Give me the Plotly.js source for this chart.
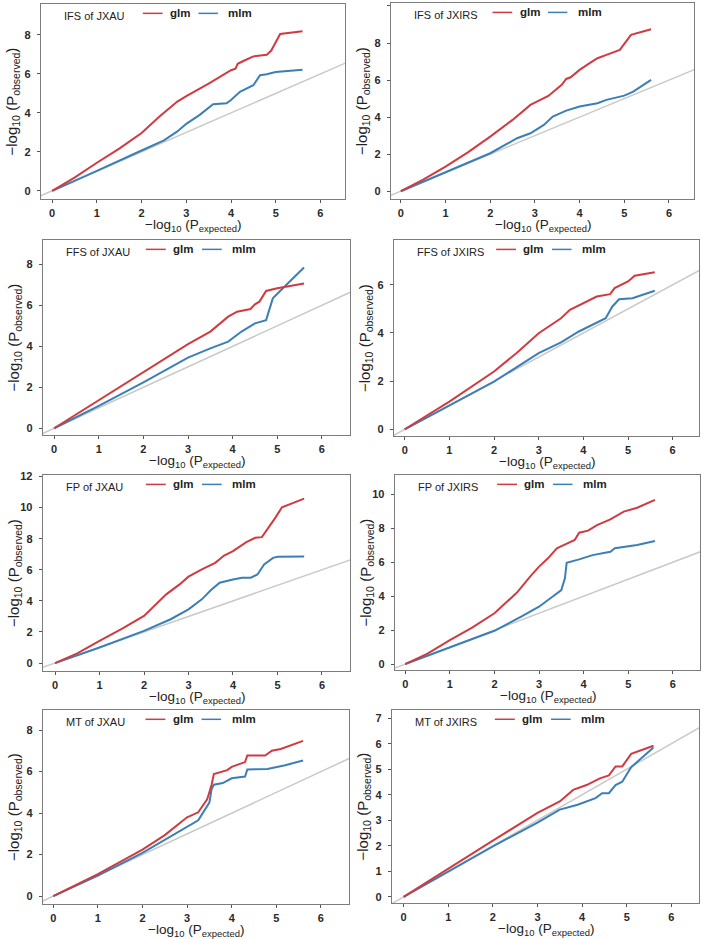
<!DOCTYPE html>
<html>
<head>
<meta charset="utf-8">
<script src="https://cdn.plot.ly/plotly-3.0.1.min.js"></script>
<style>html,body{margin:0;padding:0;background:#fff;}#chart{width:703px;height:939px;}</style>
</head>
<body>
<div id="chart"></div>
<script>
// ---------- data ----------
const panelTitles = ["IFS of JXAU", "IFS of JXIRS", "FFS of JXAU", "FFS of JXIRS",
                     "FP of JXAU", "FP of JXIRS", "MT of JXAU", "MT of JXIRS"];
const seriesNames = ["glm", "mlm"];
const xTickVals = [0, 1, 2, 3, 4, 5, 6];

const p1GlmX = [0,0.5,1,1.5,2,2.4,2.8,3,3.5,3.8,4,4.1,4.15,4.3,4.5,4.8,4.9,5.1,5.6];
const p1GlmY = [0,0.68,1.44,2.17,2.97,3.81,4.58,4.86,5.5,5.93,6.19,6.27,6.52,6.69,6.9,6.98,7.2,8.05,8.19];
const p1MlmX = [0,0.5,1,2,2.5,2.8,3,3.3,3.6,3.9,4,4.2,4.5,4.65,4.8,5,5.6];
const p1MlmY = [0,0.5,1.02,2.07,2.59,3.05,3.44,3.9,4.44,4.49,4.66,5.08,5.42,5.93,5.98,6.1,6.22];

const p2GlmX = [0,0.5,1,1.5,2,2.5,2.9,3.3,3.6,3.7,3.8,4,4.2,4.4,4.6,4.9,5.15,5.6];
const p2GlmY = [0,0.62,1.33,2.1,2.95,3.85,4.66,5.14,5.74,6.06,6.15,6.55,6.87,7.18,7.36,7.63,8.44,8.74];
const p2MlmX = [0,1,2,2.6,2.9,3.2,3.4,3.7,4,4.4,4.6,5,5.2,5.6];
const p2MlmY = [0,1.03,2.05,2.86,3.13,3.58,4.03,4.35,4.57,4.75,4.93,5.16,5.38,6.01];

const p3GlmX = [0,1,2,3,3.5,3.9,4.1,4.4,4.5,4.6,4.75,5,5.6];
const p3GlmY = [0,1.38,2.72,4.11,4.72,5.45,5.69,5.82,6.05,6.18,6.7,6.83,7.07];
const p3MlmX = [0,1,2,3,3.5,3.9,4.2,4.5,4.75,4.9,5.2,5.6];
const p3MlmY = [0,1.09,2.24,3.45,3.9,4.23,4.72,5.12,5.28,6.34,6.99,7.85];

const p4GlmX = [0,1,2,2.5,3,3.5,3.7,4,4.3,4.6,4.7,5,5.15,5.6];
const p4GlmY = [0,1.15,2.4,3.16,3.99,4.61,4.96,5.24,5.51,5.61,5.86,6.14,6.38,6.52];
const p4MlmX = [0,1,2,3,3.5,3.9,4.2,4.5,4.65,4.8,5.1,5.6];
const p4MlmY = [0,1.0,1.98,3.16,3.61,4.06,4.34,4.61,5.1,5.4,5.44,5.75];

const p5GlmX = [0,0.5,1,1.5,2,2.5,2.8,3,3.3,3.6,3.8,4,4.3,4.5,4.65,4.8,4.95,5.1,5.6];
const p5GlmY = [0,0.62,1.43,2.2,3.03,4.42,5.06,5.56,6.03,6.45,6.92,7.2,7.78,8.06,8.1,8.7,9.34,10.02,10.58];
const p5MlmX = [0,1,2,2.6,3,3.3,3.5,3.7,4,4.2,4.4,4.55,4.7,4.9,5,5.6];
const p5MlmY = [0,1,2.07,2.82,3.46,4.1,4.68,5.17,5.38,5.49,5.49,5.7,6.35,6.77,6.84,6.86];

const p6GlmX = [0,0.5,1,1.5,2,2.5,2.8,3,3.2,3.4,3.6,3.8,3.9,4.1,4.3,4.6,4.9,5.2,5.6];
const p6GlmY = [0,0.62,1.41,2.15,2.99,4.2,5.15,5.74,6.23,6.82,7.07,7.31,7.74,7.86,8.19,8.53,8.98,9.21,9.67];
const p6MlmX = [0,1,2,2.6,3,3.3,3.5,3.58,3.62,3.9,4.2,4.6,4.7,5.2,5.6];
const p6MlmY = [0,0.98,1.96,2.79,3.38,3.97,4.36,5.05,5.97,6.17,6.42,6.62,6.82,7.01,7.25];

const p7GlmX = [0,1,2,2.5,3,3.25,3.45,3.55,3.6,3.9,4,4.3,4.35,4.75,4.9,5.1,5.6];
const p7GlmY = [0,1.06,2.24,2.94,3.8,4.04,4.66,5.37,5.88,6.07,6.23,6.46,6.78,6.78,7.01,7.09,7.48];
const p7MlmX = [0,1,2,3,3.25,3.5,3.55,3.6,3.8,4,4.3,4.35,4.8,5.2,5.6];
const p7MlmY = [0,0.99,2.08,3.33,3.65,4.51,5.16,5.37,5.45,5.68,5.76,6.1,6.13,6.31,6.54];

const p8GlmX = [0,1,2,3,3.5,3.8,4.1,4.4,4.6,4.75,4.9,5.1,5.6];
const p8GlmY = [0,1.11,2.2,3.29,3.74,4.19,4.38,4.64,4.76,5.11,5.11,5.6,5.92];
const p8MlmX = [0,1,2,3,3.5,3.9,4.1,4.3,4.45,4.6,4.75,4.9,5.1,5.6];
const p8MlmY = [0,0.99,1.98,2.91,3.42,3.61,3.74,3.87,4.06,4.06,4.38,4.51,5.08,5.85];

const glmX = [p1GlmX,p2GlmX,p3GlmX,p4GlmX,p5GlmX,p6GlmX,p7GlmX,p8GlmX];
const glmY = [p1GlmY,p2GlmY,p3GlmY,p4GlmY,p5GlmY,p6GlmY,p7GlmY,p8GlmY];
const mlmX = [p1MlmX,p2MlmX,p3MlmX,p4MlmX,p5MlmX,p6MlmX,p7MlmX,p8MlmX];
const mlmY = [p1MlmY,p2MlmY,p3MlmY,p4MlmY,p5MlmY,p6MlmY,p7MlmY,p8MlmY];
const diagLine = [-1, 8];

// ---------- layout geometry (pixels) ----------
const W = 703, H = 939;
const boxes = [ // [left, right, top, bottom]
  [41, 345, 4, 199], [391, 694, 3, 199],
  [43, 350, 240, 435], [394, 699, 240, 436],
  [43, 350, 475, 671], [395, 700, 475, 670],
  [43, 349, 710, 904], [392, 699, 710, 903]
];
const xRanges = [[-0.25,6.55],[-0.22,6.56],[-0.25,6.63],[-0.24,6.59],[-0.27,6.63],[-0.23,6.61],[-0.23,6.63],[-0.26,6.62]];
const yRanges = [[-0.42,9.59],[-0.42,10.16],[-0.33,9.19],[-0.28,7.86],[-0.51,12.1],[-0.35,11.14],[-0.38,8.97],[-0.24,7.32]];
const yDticks = [2,2,2,2,2,2,2,1];

const RED = '#cf3b40', BLUE = '#3b7fb4', GRAY = '#c9c9c9', FRAME = '#7d7d7d';
const FONT = 'Liberation Sans, Arial, sans-serif';

const traces = [];
const layout = {
  width: W, height: H, margin: {l:0, r:0, t:0, b:0},
  paper_bgcolor: '#fff', plot_bgcolor: '#fff', showlegend: false,
  annotations: [], shapes: []
};

for (let i = 0; i < 8; i++) {
  const n = i === 0 ? '' : String(i + 1);
  const xa = 'x' + n, ya = 'y' + n;
  const [L, R, T, B] = boxes[i];
  const axisCommon = {
    showgrid: false, zeroline: false, showline: true, mirror: true,
    linecolor: FRAME, linewidth: 1.3, ticks: 'outside', ticklen: 3,
    tickcolor: '#555', tickwidth: 1,
    tickfont: {family: FONT, size: 11, color: '#2a2a2a', weight: 'bold'}
  };
  layout['xaxis' + n] = Object.assign({}, axisCommon, {
    domain: [L / W, R / W], range: xRanges[i], anchor: ya,
    tickmode: 'array', tickvals: xTickVals, ticklabelstandoff: 0
  });
  layout['yaxis' + n] = Object.assign({}, axisCommon, {
    domain: [1 - B / H, 1 - T / H], range: yRanges[i], anchor: xa,
    tickmode: 'linear', tick0: 0, dtick: yDticks[i], ticklabelstandoff: 4
  });

  traces.push({x: diagLine, y: diagLine, xaxis: xa, yaxis: ya, mode: 'lines',
               line: {color: GRAY, width: 1.5}, hoverinfo: 'skip'});
  traces.push({x: mlmX[i], y: mlmY[i], xaxis: xa, yaxis: ya, mode: 'lines', name: seriesNames[1],
               line: {color: BLUE, width: 2}});
  traces.push({x: glmX[i], y: glmY[i], xaxis: xa, yaxis: ya, mode: 'lines', name: seriesNames[0],
               line: {color: RED, width: 2}});

  const xd = xa + ' domain', yd = ya + ' domain';
  // panel title
  layout.annotations.push({xref: xd, yref: yd, x: 0.07, y: 0.94, xanchor: 'left', yanchor: 'middle',
    text: panelTitles[i], showarrow: false, font: {family: FONT, size: 11, color: '#222'}});
  // legend
  const ly = 0.952;
  layout.shapes.push({type: 'line', xref: xd, yref: yd, x0: 0.335, x1: 0.40, y0: ly, y1: ly,
    line: {color: RED, width: 1.5}});
  layout.shapes.push({type: 'line', xref: xd, yref: yd, x0: 0.518, x1: 0.582, y0: ly, y1: ly,
    line: {color: BLUE, width: 1.5}});
  layout.annotations.push({xref: xd, yref: yd, x: 0.418, y: ly, xanchor: 'left', yanchor: 'middle',
    text: seriesNames[0], showarrow: false, font: {family: FONT, size: 11.5, color: '#222', weight: 'bold'}});
  layout.annotations.push({xref: xd, yref: yd, x: 0.61, y: ly, xanchor: 'left', yanchor: 'middle',
    text: seriesNames[1], showarrow: false, font: {family: FONT, size: 11.5, color: '#222', weight: 'bold'}});
  // axis titles
  layout.annotations.push({xref: xd, yref: yd, x: 0.5, y: 0, yshift: -16, xanchor: 'center', yanchor: 'top',
    text: '\u2212log<sub>10</sub> (P<sub>expected</sub>)', showarrow: false,
    font: {family: FONT, size: 13.5, color: '#222'}});
  layout.annotations.push({xref: xd, yref: yd, x: 0, xshift: -29, y: 0.5, xanchor: 'center', yanchor: 'middle',
    textangle: -90, text: '\u2212log<sub>10</sub> (P<sub>observed</sub>)', showarrow: false,
    font: {family: FONT, size: 15, color: '#222'}});
}

Plotly.newPlot('chart', traces, layout, {staticPlot: true, displayModeBar: false});
</script>
</body>
</html>
